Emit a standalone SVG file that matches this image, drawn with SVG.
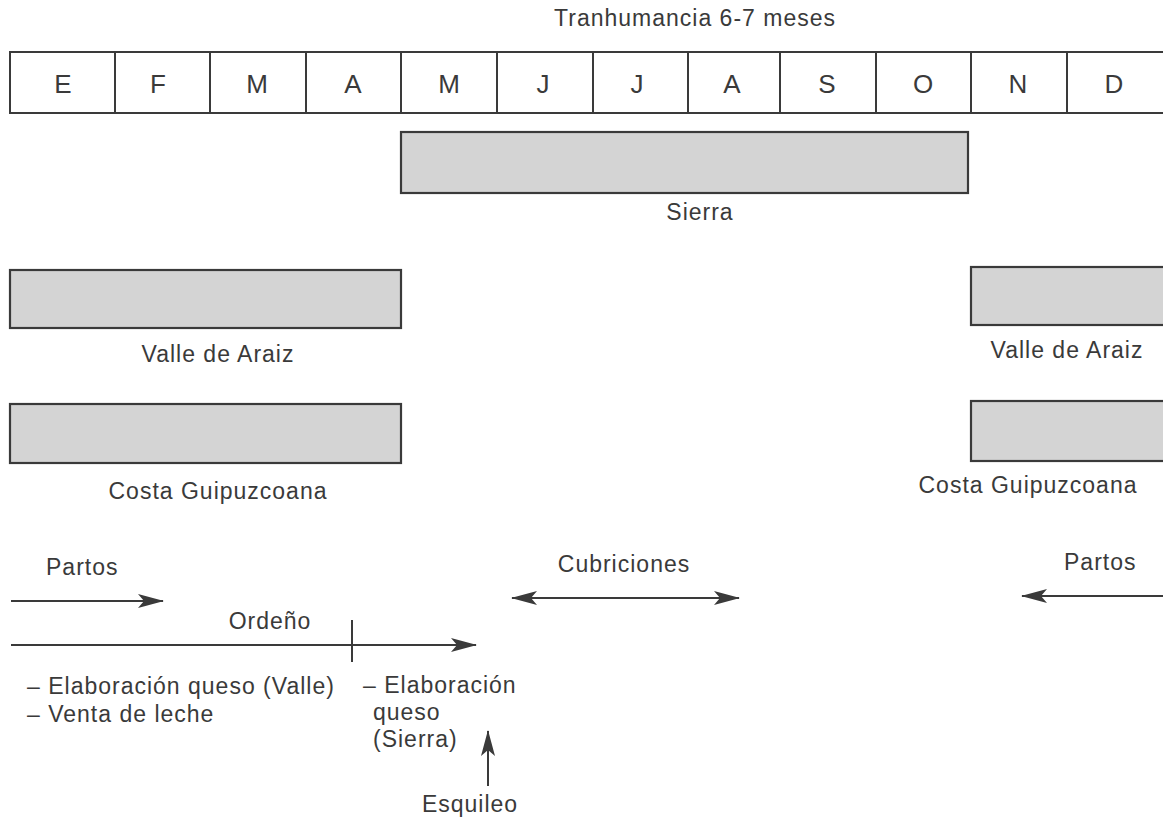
<svg xmlns="http://www.w3.org/2000/svg" width="1163" height="820" viewBox="0 0 1163 820">
<style>
text{font-family:"Liberation Sans",Arial,sans-serif;font-size:23px;letter-spacing:1px;fill:#3a3a3a}
.m{text-anchor:middle}
.mo{font-size:26px;letter-spacing:0}
.cell{fill:#fff;stroke:#3a3a3a;stroke-width:2}
.bar{fill:#d4d4d4;stroke:#3a3a3a;stroke-width:2.2}
.ln{stroke:#3a3a3a;stroke-width:2;fill:none}
</style>
<defs>
<marker id="ah" viewBox="0 0 26 14" refX="25" refY="7" markerWidth="26" markerHeight="14" markerUnits="userSpaceOnUse" orient="auto-start-reverse">
<path d="M0,0 L26,7 L0,14 L6,7 Z" fill="#3a3a3a"/>
</marker>
</defs>
<rect width="1163" height="820" fill="#fff"/>
<g id="title"><text class="m" x="695" y="26">Tranhumancia 6-7 meses</text></g>
<g id="months">
<rect class="cell" x="10" y="52" width="1160" height="61"/>
<path class="ln" d="M115,52V113M210,52V113M306,52V113M401,52V113M497,52V113M593,52V113M688,52V113M780,52V113M876,52V113M971,52V113M1067,52V113"/>
<text class="m mo" x="63" y="93">E</text>
<text class="m mo" x="158" y="93">F</text>
<text class="m mo" x="257" y="93">M</text>
<text class="m mo" x="353" y="93">A</text>
<text class="m mo" x="449" y="93">M</text>
<text class="m mo" x="543" y="93">J</text>
<text class="m mo" x="637" y="93">J</text>
<text class="m mo" x="732" y="93">A</text>
<text class="m mo" x="827" y="93">S</text>
<text class="m mo" x="923" y="93">O</text>
<text class="m mo" x="1018" y="93">N</text>
<text class="m mo" x="1114" y="93">D</text>
</g>
<g id="sierra">
<rect class="bar" x="401" y="132" width="567" height="61"/>
<text class="m" x="700" y="220">Sierra</text>
</g>
<g id="valle-left">
<rect class="bar" x="10" y="270" width="391" height="58"/>
<text class="m" x="218" y="362">Valle de Araiz</text>
</g>
<g id="valle-right">
<rect class="bar" x="971" y="267" width="200" height="58"/>
<text class="m" x="1067" y="358">Valle de Araiz</text>
</g>
<g id="costa-left">
<rect class="bar" x="10" y="404" width="391" height="59"/>
<text class="m" x="218" y="499">Costa Guipuzcoana</text>
</g>
<g id="costa-right">
<rect class="bar" x="971" y="401" width="200" height="60"/>
<text class="m" x="1028" y="493">Costa Guipuzcoana</text>
</g>
<g id="labels">
<text x="46" y="575">Partos</text>
<text class="m" x="624" y="572">Cubriciones</text>
<text x="1064" y="570">Partos</text>
<text class="m" x="270" y="629">Ordeño</text>
<text x="27" y="694">–  Elaboración queso (Valle)</text>
<text x="27" y="722">–  Venta de leche</text>
<text x="363" y="693">– Elaboración</text>
<text x="373" y="720">queso</text>
<text x="373" y="747">(Sierra)</text>
<text class="m" x="470" y="812">Esquileo</text>
</g>
<g id="connectors">
<line class="ln" x1="11" y1="601" x2="163" y2="601" marker-end="url(#ah)"/>
<line class="ln" x1="512" y1="598" x2="739" y2="598" marker-start="url(#ah)" marker-end="url(#ah)"/>
<line class="ln" x1="1163" y1="596" x2="1022" y2="596" marker-end="url(#ah)"/>
<line class="ln" x1="11" y1="645" x2="476" y2="645" marker-end="url(#ah)"/>
<line class="ln" x1="352" y1="620" x2="352" y2="662"/>
<line class="ln" x1="488" y1="786" x2="488" y2="731" marker-end="url(#ah)"/>
</g>
</svg>
